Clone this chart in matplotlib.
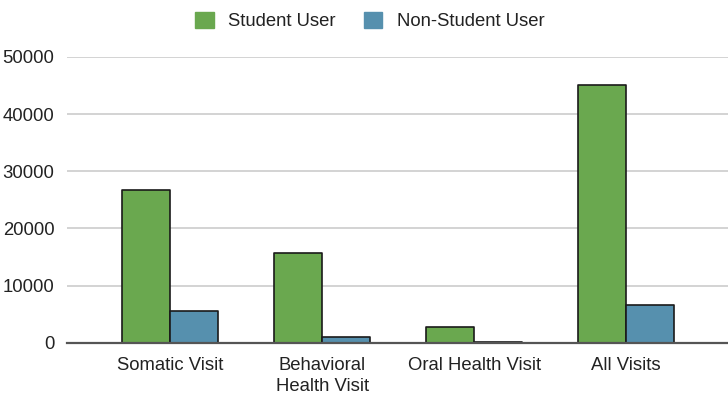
import matplotlib
matplotlib.use("Agg")
import matplotlib.pyplot as plt
import numpy as np

categories = ["Somatic Visit", "Behavioral\nHealth Visit", "Oral Health Visit", "All Visits"]
student = [26800, 15700, 2850, 45000]
non_student = [5550, 980, 230, 6550]
series_names = ["Student User", "Non-Student User"]
yticks = [0, 10000, 20000, 30000, 40000, 50000]

plt.rcParams["font.family"] = ["Liberation Sans", "DejaVu Sans"]
fs = 13.3

fig = plt.figure(figsize=(7.28, 3.95), dpi=100)
ax = fig.add_axes([0.092, 0.132, 0.908, 0.724])

x = np.arange(len(categories))
w = 0.315
green = "#6aa84f"
blue = "#5690ae"
b1 = ax.bar(x - w / 2, student, w, color=green, edgecolor="#1a1a1a", linewidth=1.2,
            label=series_names[0], zorder=3)
b2 = ax.bar(x + w / 2, non_student, w, color=blue, edgecolor="#1a1a1a", linewidth=1.2,
            label=series_names[1], zorder=3)
for p in list(b1) + list(b2):
    p.set_joinstyle("round")

ax.set_xlim(-0.678, 3.67)
ax.set_ylim(0, 50000)
ax.set_yticks(yticks)
ax.set_yticklabels([str(v) for v in yticks], fontsize=fs, color="#222222")
ax.set_xticks(x)
ax.set_xticklabels(categories, fontsize=fs, color="#222222", linespacing=1.3)
ax.tick_params(axis="both", length=0)
ax.tick_params(axis="y", pad=9)
ax.tick_params(axis="x", pad=10)

ax.grid(axis="y", color="#cccccc", linewidth=1.2, zorder=0)
ax.set_axisbelow(True)
for s in ["top", "right", "left"]:
    ax.spines[s].set_visible(False)
ax.spines["bottom"].set_color("#555555")
ax.spines["bottom"].set_linewidth(1.6)
ax.spines["bottom"].set_zorder(4)

handles = [plt.Rectangle((0, 0), 1, 1, color=green), plt.Rectangle((0, 0), 1, 1, color=blue)]
fig.legend(handles, series_names, loc="upper center", bbox_to_anchor=(0.508, 1.012),
           ncol=2, frameon=False, fontsize=fs, handlelength=1.0, handleheight=1.0,
           handletextpad=0.8, columnspacing=1.5, labelcolor="#222222")

fig.savefig("out.png", dpi=100)
